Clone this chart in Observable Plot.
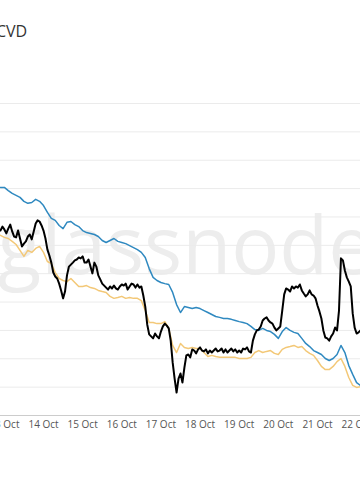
<!DOCTYPE html>
<html><head><meta charset="utf-8">
<script src="https://cdn.jsdelivr.net/npm/d3@7"></script>
<script src="https://cdn.jsdelivr.net/npm/@observablehq/plot@0.6"></script>
<style>
html,body{margin:0;padding:0;background:#fff;overflow:hidden;}
#wrap{position:relative;width:360px;height:504px;overflow:hidden;background:#fff;}
#chart{position:absolute;left:0;top:0;}
#title{position:absolute;left:-4px;top:23px;font:16px "Open Sans",sans-serif;line-height:1;color:#333;white-space:nowrap;}
</style></head><body>
<div id="wrap"><div id="chart"></div><div id="title"></div></div>
<script>
const title = "CVD";
const watermark = "glassnode";
const seriesStart = "2023-10-12T21:36:00Z";
const coarseStepMinutes = 144;
const fineStepMinutes = 72;
const viewDomain = ["2023-10-12T21:38:00Z", "2023-10-22T02:23:00Z"];
const tickDays = ["2023-10-13","2023-10-14","2023-10-15","2023-10-16","2023-10-17","2023-10-18","2023-10-19","2023-10-20","2023-10-21","2023-10-22"];
const gridLevels = [0,1,2,3,4,5,6,7,8,9,10,11];

const blueCVD = [
8.04, 8.04, 7.93, 7.83, 7.76, 7.69, 7.55, 7.48, 7.51, 7.62,
7.55, 7.40, 7.16, 6.95, 6.88, 6.70, 6.59, 6.81, 6.84, 6.73,
6.66, 6.52, 6.45, 6.42, 6.38, 6.31, 6.17, 6.10, 6.17, 6.24,
6.14, 6.10, 6.06, 5.99, 5.92, 5.85, 5.75, 5.57, 5.18, 4.87,
4.76, 4.69, 4.65, 4.62, 4.34, 3.91, 3.63, 3.84, 3.81, 3.77,
3.81, 3.77, 3.70, 3.63, 3.56, 3.49, 3.46, 3.42, 3.42, 3.39,
3.35, 3.31, 3.28, 3.24, 3.14, 3.03, 3.00, 3.07, 3.00, 2.96,
2.86, 2.72, 2.96, 3.10, 3.00, 2.93, 2.89, 2.72, 2.54, 2.43,
2.29, 2.22, 2.15, 2.01, 1.94, 2.01, 2.15, 2.47, 2.22, 1.76,
1.45, 1.16, 1.06
];

const orangeCVD = [
6.35, 6.28, 6.24, 6.14, 6.03, 5.82, 5.61, 5.82, 5.75, 5.89,
5.96, 5.75, 5.43, 5.36, 5.04, 4.83, 4.76, 4.72, 4.83, 4.69,
4.55, 4.55, 4.58, 4.51, 4.48, 4.41, 4.37, 4.34, 4.20, 4.13,
4.16, 4.20, 4.13, 4.16, 4.13, 4.13, 4.05, 3.70, 3.28, 3.28,
3.24, 3.24, 3.31, 3.07, 2.47, 2.22, 2.54, 2.40, 2.36, 2.40,
2.36, 2.36, 2.22, 2.08, 2.12, 2.08, 2.05, 2.05, 2.05, 2.05,
2.05, 2.01, 2.01, 2.01, 2.05, 2.22, 2.29, 2.22, 2.26, 2.29,
2.19, 2.15, 2.33, 2.40, 2.43, 2.47, 2.40, 2.43, 2.29, 2.19,
2.12, 1.94, 1.73, 1.62, 1.62, 1.73, 1.90, 2.01, 1.73, 1.34,
1.06, 0.99, 1.02
];

const blackCVD = [
6.52, 6.66, 6.56, 6.42, 6.59, 6.73, 6.49, 6.31, 6.28, 6.52,
6.24, 5.96, 6.06, 6.14, 6.31, 6.38, 6.21, 6.49, 6.77, 6.88,
6.84, 6.70, 6.52, 6.24, 5.85, 5.64, 5.39, 5.04, 4.90, 4.83,
4.65, 4.41, 4.13, 4.37, 4.94, 5.25, 5.32, 5.39, 5.47, 5.50,
5.57, 5.54, 5.61, 5.39, 5.39, 5.50, 5.25, 5.01, 5.39, 5.25,
4.94, 4.80, 4.65, 4.58, 4.51, 4.44, 4.55, 4.48, 4.58, 4.48,
4.44, 4.55, 4.62, 4.58, 4.65, 4.44, 4.55, 4.65, 4.62, 4.51,
4.62, 4.51, 4.55, 4.23, 3.84, 3.21, 2.86, 2.79, 2.72, 2.89,
2.79, 2.72, 2.96, 3.14, 3.24, 3.17, 3.07, 2.64, 1.87, 1.30,
0.81, 1.30, 1.48, 1.16, 1.69, 2.12, 2.15, 2.05, 2.33, 2.29,
2.19, 2.33, 2.40, 2.29, 2.26, 2.33, 2.19, 2.29, 2.22, 2.29,
2.36, 2.26, 2.29, 2.36, 2.22, 2.33, 2.22, 2.29, 2.36, 2.26,
2.33, 2.22, 2.29, 2.22, 2.36, 2.33, 2.40, 2.26, 2.22, 2.64,
2.86, 3.00, 3.03, 3.14, 3.35, 3.42, 3.46, 3.35, 3.28, 3.24,
3.10, 3.00, 3.07, 3.14, 3.70, 4.27, 4.48, 4.44, 4.37, 4.55,
4.48, 4.55, 4.51, 4.62, 4.41, 4.30, 4.20, 4.27, 4.41, 4.27,
4.23, 4.13, 3.88, 3.67, 3.42, 3.00, 2.75, 2.72, 2.64, 2.79,
2.89, 3.10, 3.00, 3.70, 5.54, 5.47, 5.11, 4.87, 4.72, 4.55,
3.60, 3.10, 2.89, 2.93, 3.00
];

const t0 = new Date(seriesStart).getTime();
const rows = (vals, stepMin) => vals.map((v, i) => ({t: new Date(t0 + i * stepMin * 60000), v}));
const blue = rows(blueCVD, coarseStepMinutes);
const orange = rows(orangeCVD, coarseStepMinutes);
const black = rows(blackCVD, fineStepMinutes);

document.getElementById("title").textContent = title;

const chart = Plot.plot({
  width: 360,
  height: 504,
  marginLeft: 0,
  marginRight: 0,
  marginTop: 103,
  marginBottom: 89,
  style: {background: "transparent", fontFamily: "'Open Sans', sans-serif", color: "#555"},
  x: {type: "utc", domain: viewDomain.map(d => new Date(d)), axis: null, label: null},
  y: {domain: [0, 11], axis: null, label: null},
  marks: [
    Plot.text([watermark], {text: d => d, frameAnchor: "middle", lineAnchor: "bottom", dx: 5, dy: 14, fontSize: 80, fill: "#ededed", fontFamily: "'Open Sans', sans-serif"}),
    Plot.ruleY(gridLevels.slice(1), {stroke: "#ebebeb", strokeWidth: 1}),
    Plot.ruleY([0], {stroke: "#cccccc", strokeWidth: 1}),
    Plot.axisX(tickDays.map(d => new Date(d)), {tickSize: 0, tickPadding: 5, fontSize: 10, label: null, tickFormat: d3.utcFormat("%-d %b")}),
    Plot.line(orange, {x: "t", y: "v", stroke: "#f3c877", strokeWidth: 1.5, clip: true}),
    Plot.line(blue, {x: "t", y: "v", stroke: "#2f89c0", strokeWidth: 1.5, clip: true}),
    Plot.line(black, {x: "t", y: "v", stroke: "#000000", strokeWidth: 2, clip: true})
  ]
});
document.getElementById("chart").appendChild(chart);
</script>
</body></html>
